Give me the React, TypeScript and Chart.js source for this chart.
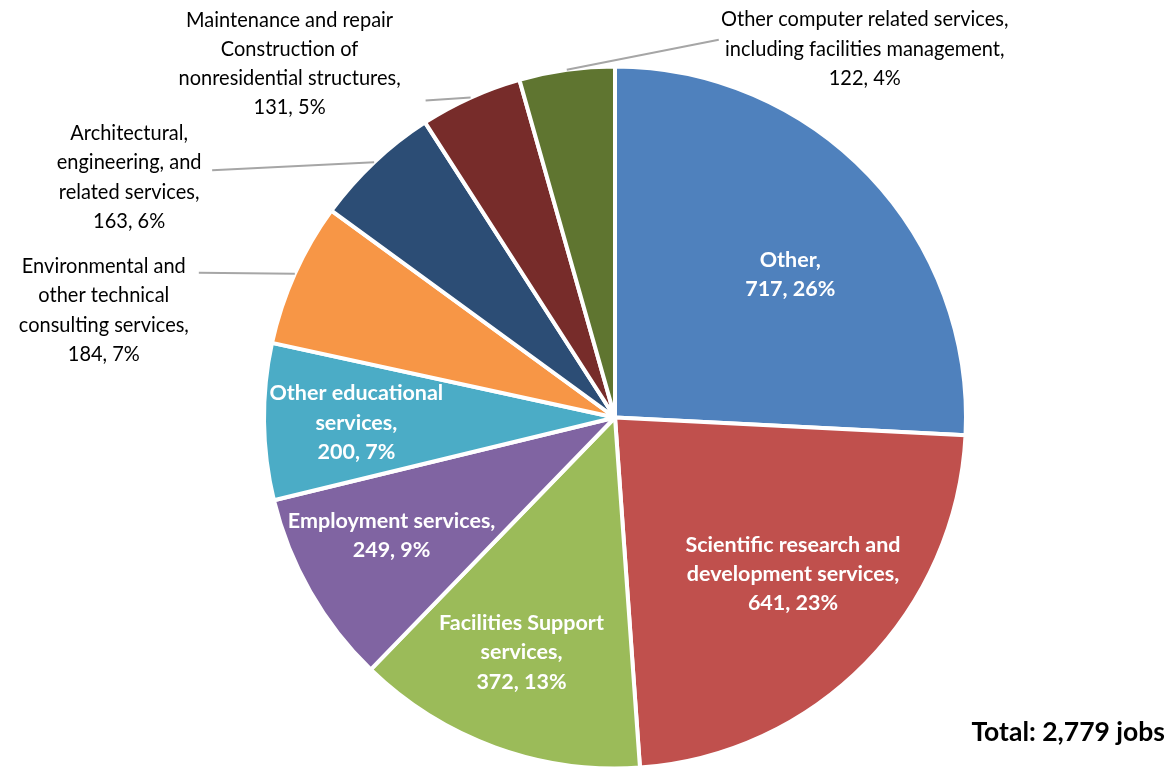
import React, { useEffect, useRef } from "react";
import { Chart, registerables } from "chart.js";

Chart.register(...registerables);

const categories = [
  "Other",
  "Scientific research and development services",
  "Facilities Support services",
  "Employment services",
  "Other educational services",
  "Environmental and other technical consulting services",
  "Architectural, engineering, and related services",
  "Maintenance and repair Construction of nonresidential structures",
  "Other computer related services, including facilities management",
];

const jobs = [717, 641, 372, 249, 200, 184, 163, 131, 122];

const sliceColors = [
  "#4F81BD",
  "#C0504D",
  "#9BBB59",
  "#8064A2",
  "#4BACC6",
  "#F79646",
  "#2C4D75",
  "#772C2A",
  "#5F7530",
];

const labelLines = [
  ["Other,"],
  ["Scientific research and", "development services,"],
  ["Facilities Support", "services,"],
  ["Employment services,"],
  ["Other educational", "services,"],
  ["Environmental and", "other technical", "consulting services,"],
  ["Architectural,", "engineering, and", "related services,"],
  ["Maintenance and repair", "Construction of", "nonresidential structures,"],
  ["Other computer related services,", "including facilities management,"],
];

const totalText = "Total: 2,779 jobs";

// label layout (not data)
type InnerLayout = { kind: "in"; dAngle: number; f: number };
type OuterLayout = { kind: "out"; end: [number, number]; text: [number, number] };
const labelLayout: (InnerLayout | OuterLayout)[] = [
  { kind: "in", dAngle: 4.3, f: 0.645 },
  { kind: "in", dAngle: -3.1, f: 0.675 },
  { kind: "in", dAngle: 1.7, f: 0.72 },
  { kind: "in", dAngle: 1.9, f: 0.72 },
  { kind: "in", dAngle: -0.5, f: 0.737 },
  { kind: "out", end: [-96, -1], text: [-95, 37.5] },
  { kind: "out", end: [-162, 8], text: [-83, 7] },
  { kind: "out", end: [-45, 3], text: [-136, -37] },
  { kind: "out", end: [152, -30], text: [146, 9] },
];

const FONT = "Lato, 'Open Sans', sans-serif";
const LINE_H = 29.3;
const REG_STRETCH = 0.93;

const labelPlugin = {
  id: "pieLabels",
  afterDatasetsDraw(chart: any) {
    const ctx: CanvasRenderingContext2D = chart.ctx;
    const meta = chart.getDatasetMeta(0);
    const data = chart.data.datasets[0].data as number[];
    const total = data.reduce((a, b) => a + b, 0);
    ctx.save();
    ctx.textAlign = "center";
    ctx.textBaseline = "middle";
    meta.data.forEach((arc: any, i: number) => {
      const { x, y, startAngle, endAngle, outerRadius } = arc.getProps(
        ["x", "y", "startAngle", "endAngle", "outerRadius"],
        true
      );
      const mid = (startAngle + endAngle) / 2;
      const pct = Math.round((data[i] / total) * 100);
      const lines = [...labelLines[i], `${data[i]}, ${pct}%`];
      const lay = labelLayout[i];
      let cx: number, cy: number;
      let stretch = 1;
      if (lay.kind === "in") {
        const a = mid + (lay.dAngle * Math.PI) / 180;
        const r = outerRadius * lay.f;
        cx = x + Math.cos(a) * r;
        cy = y + Math.sin(a) * r;
        ctx.fillStyle = "#FFFFFF";
        ctx.font = `bold 21.5px ${FONT}`;
      } else {
        const ex = x + Math.cos(mid) * outerRadius;
        const ey = y + Math.sin(mid) * outerRadius;
        const lx = ex + lay.end[0];
        const ly = ey + lay.end[1];
        ctx.strokeStyle = "#A6A6A6";
        ctx.lineWidth = 2;
        ctx.beginPath();
        ctx.moveTo(ex, ey);
        ctx.lineTo(lx, ly);
        ctx.stroke();
        cx = lx + lay.text[0];
        cy = ly + lay.text[1];
        ctx.fillStyle = "#000000";
        ctx.font = `21.5px ${FONT}`;
        stretch = REG_STRETCH;
      }
      const top = cy - ((lines.length - 1) * LINE_H) / 2;
      lines.forEach((ln, k) => {
        ctx.save();
        ctx.translate(cx, top + k * LINE_H);
        ctx.scale(stretch, 1);
        ctx.fillText(ln, 0, 0);
        ctx.restore();
      });
    });
    ctx.font = `bold 26.5px ${FONT}`;
    ctx.fillStyle = "#000000";
    ctx.textAlign = "right";
    ctx.fillText(totalText, chart.width - 10, chart.height - 35);
    ctx.restore();
  },
};

export default function App() {
  const ref = useRef<HTMLCanvasElement>(null);
  useEffect(() => {
    if (!ref.current) return;
    const chart = new Chart(ref.current, {
      type: "pie",
      data: {
        labels: categories,
        datasets: [
          {
            data: jobs,
            backgroundColor: sliceColors,
            borderColor: "#FFFFFF",
            borderWidth: 4,
          },
        ],
      },
      options: {
        animation: false,
        responsive: false,
        radius: 351,
        layout: { padding: { left: 55, right: 0, top: 68, bottom: 0 } },
        plugins: {
          legend: { display: false },
          tooltip: { enabled: false },
        },
      } as any,
      plugins: [labelPlugin],
    });
    return () => chart.destroy();
  }, []);
  return (
    <div style={{ position: "absolute", left: 0, top: 0, width: 1175, height: 767, background: "#fff" }}>
      <canvas ref={ref} width={1175} height={767} style={{ display: "block" }} />
    </div>
  );
}
